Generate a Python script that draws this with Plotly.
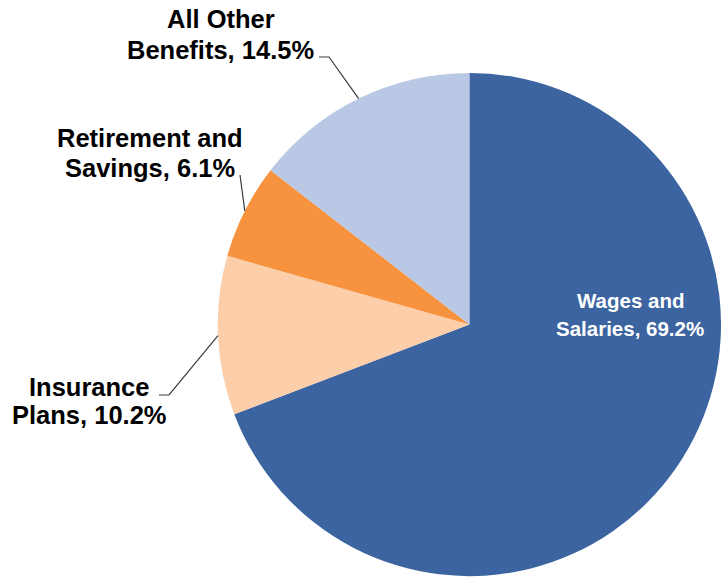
import math
import plotly.graph_objects as go

# Compensation breakdown
categories = ["Wages and Salaries", "Insurance Plans", "Retirement and Savings", "All Other Benefits"]
shares = [69.2, 10.2, 6.1, 14.5]
colors = ["#3C64A0", "#FCCFAA", "#F7923F", "#B9C8E5"]

W, H = 721, 580
# pie domain (paper fractions)
dom_x = [0.302, 1.0]
dom_y = [0.0066, 0.8744]

fig = go.Figure(go.Pie(
    labels=categories,
    values=shares,
    sort=False,
    direction="clockwise",
    rotation=0,
    marker=dict(colors=colors, line=dict(width=0)),
    textinfo="none",
    hoverinfo="label+percent",
    domain=dict(x=dom_x, y=dom_y),
    showlegend=False,
))

# pie geometry in pixels, used to anchor the leader lines on slice edges
cx = (dom_x[0] + dom_x[1]) / 2 * W
cy = (1 - (dom_y[0] + dom_y[1]) / 2) * H
r = min((dom_x[1] - dom_x[0]) * W, (dom_y[1] - dom_y[0]) * H) / 2

total = sum(shares)
mid_angles = []
acc = 0.0
for v in shares:
    mid_angles.append((acc + v / 2) / total * 360.0)
    acc += v


def edge_point(angle_deg, frac=1.0):
    a = math.radians(angle_deg)
    return cx + frac * r * math.sin(a), cy - frac * r * math.cos(a)


def px(x):
    return x / W


def py(y):
    return 1 - y / H


def label(lines, x, ys, size, color):
    for text, y in zip(lines, ys):
        fig.add_annotation(
            x=px(x), y=py(y), xref="paper", yref="paper",
            text=f"<b>{text}</b>", showarrow=False,
            font=dict(family="Liberation Sans, Arial, sans-serif", size=size, color=color),
            xanchor="center", yanchor="middle",
        )


def leader(points):
    path = "M " + " L ".join(f"{px(x):.5f},{py(y):.5f}" for x, y in points)
    fig.add_shape(type="path", path=path, xref="paper", yref="paper",
                  line=dict(color="#3a3a3a", width=1.2))


fmt = lambda v: f"{v:.1f}%"

# Wages and Salaries (inside)
label(["Wages and", f"Salaries, {fmt(shares[0])}"], 630, [300, 328], 20.5, "white")

# All Other Benefits
label(["All Other", f"Benefits, {fmt(shares[3])}"], 221, [19, 50], 25.5, "black")
leader([(319, 57), (329, 57), edge_point(mid_angles[3], 1.0)])

# Retirement and Savings
label(["Retirement and", f"Savings, {fmt(shares[2])}"], 150, [138, 168], 25.5, "black")
leader([(240, 175), edge_point(mid_angles[2], 1.0)])

# Insurance Plans
label(["Insurance", f"Plans, {fmt(shares[1])}"], 89, [387, 415], 25.5, "black")
leader([(159, 395), (169, 395), edge_point(mid_angles[1], 1.0)])

fig.update_layout(
    width=W, height=H,
    margin=dict(l=0, r=0, t=0, b=0),
    paper_bgcolor="white",
    plot_bgcolor="white",
)

fig.write_html("out.html")
